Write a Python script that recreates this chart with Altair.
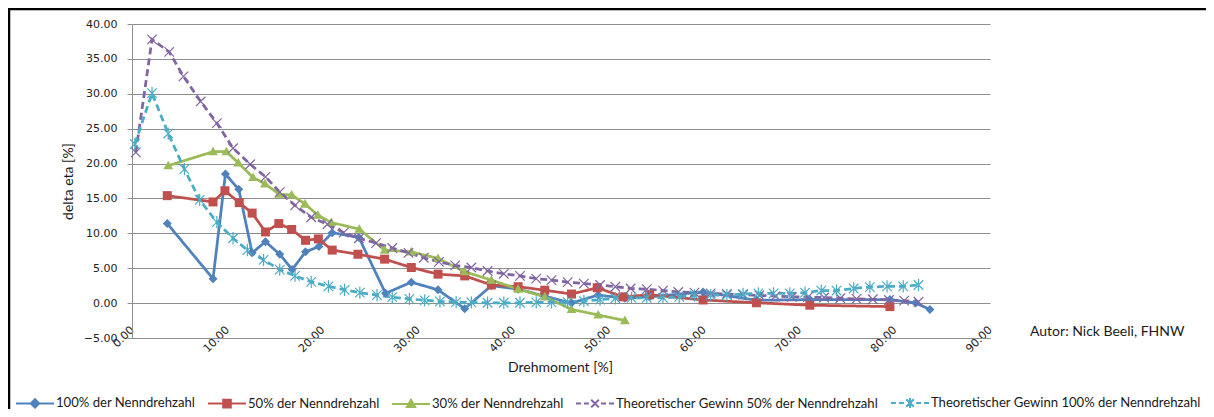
import altair as alt
import pandas as pd

# ---------------- data ----------------
S1 = "100% der Nenndrehzahl"
S2 = "50% der Nenndrehzahl"
S3 = "30% der Nenndrehzahl"
S4 = "Theoretischer Gewinn 50% der Nenndrehzahl"
S5 = "Theoretischer Gewinn 100% der Nenndrehzahl"
series_names = [S1, S2, S3, S4, S5]

blue_x = [3.7, 8.5, 9.8, 11.2, 12.6, 14.0, 15.5, 16.8, 18.2, 19.6, 21.0, 23.8, 26.6,
          29.3, 32.1, 34.9, 37.7, 40.5, 43.3, 46.1, 48.9, 51.7, 54.3, 59.9, 65.5,
          71.1, 79.5, 82.2, 83.7]
blue_y = [11.4, 3.5, 18.5, 16.3, 7.2, 8.8, 7.0, 4.8, 7.35, 8.1, 10.1, 9.4, 1.4,
          3.0, 1.9, -0.8, 2.5, 2.0, 1.0, 0.0, 1.15, 0.7, 0.9, 1.6, 0.4,
          0.5, 0.5, 0.0, -0.9]

red_x = [3.7, 8.5, 9.75, 11.25, 12.6, 14.0, 15.4, 16.75, 18.2, 19.55, 21.0, 23.7, 26.5,
         29.3, 32.1, 34.9, 37.7, 40.5, 43.3, 46.1, 48.8, 51.5, 54.3, 59.9, 65.5, 71.1, 79.5]
red_y = [15.4, 14.5, 16.1, 14.4, 12.9, 10.2, 11.4, 10.55, 9.0, 9.2, 7.6, 7.0, 6.3,
         5.1, 4.15, 3.9, 2.6, 2.35, 1.85, 1.3, 2.2, 0.9, 1.2, 0.45, 0.05, -0.3, -0.5]

green_x = [3.8, 8.5, 9.9, 11.15, 12.7, 13.95, 15.45, 16.75, 18.15, 19.5, 20.9, 23.85,
           26.5, 29.3, 32.1, 34.9, 37.7, 40.5, 43.3, 46.1, 48.9, 51.7]
green_y = [19.7, 21.7, 21.7, 20.1, 18.0, 17.1, 15.6, 15.5, 14.2, 12.6, 11.55, 10.6,
           7.6, 7.35, 6.4, 4.5, 3.3, 2.0, 0.9, -0.9, -1.7, -2.5]

purple_x = [0.4, 2.1, 3.9, 5.4, 7.2, 8.9, 10.6, 12.4, 14.0, 15.5, 17.1, 18.8, 20.5,
            22.2, 23.8, 25.6, 27.3, 29.0, 30.6, 32.2, 33.9, 35.6, 37.3, 39.0, 40.7,
            42.4, 44.0, 45.7, 47.4, 49.1, 50.7, 52.3, 54.0, 55.7, 57.3, 59.0, 60.7,
            62.4, 64.1, 65.8, 67.5, 69.2, 70.9, 72.6, 74.3, 76.0, 77.7, 79.4, 81.0, 82.5]
purple_y = [21.6, 37.8, 36.0, 32.5, 28.9, 25.8, 22.2, 19.9, 18.1, 15.9, 14.0, 12.3, 11.3,
            10.1, 9.3, 8.6, 7.9, 7.2, 6.5, 5.9, 5.4, 5.1, 4.6, 4.2, 3.9,
            3.5, 3.3, 3.0, 2.8, 2.6, 2.35, 2.1, 2.0, 1.8, 1.6, 1.5, 1.4,
            1.3, 1.2, 1.1, 1.0, 0.9, 0.85, 0.8, 0.7, 0.6, 0.55, 0.45, 0.35, 0.2]

cyan_x = [0.3, 2.1, 3.8, 5.5, 7.1, 8.9, 10.6, 12.1, 13.8, 15.5, 17.1, 18.8, 20.6,
          22.3, 23.9, 25.7, 27.3, 29.1, 30.7, 32.3, 34.0, 35.6, 37.3, 39.0, 40.7,
          42.4, 44.0, 45.7, 47.4, 49.1, 50.7, 52.4, 54.0, 55.7, 57.4, 59.0, 60.7,
          62.4, 64.1, 65.7, 67.3, 69.0, 70.6, 72.3, 73.9, 75.7, 77.4, 79.2, 80.9, 82.5]
cyan_y = [22.8, 30.1, 24.3, 19.2, 14.8, 11.6, 9.3, 7.6, 6.2, 4.8, 3.9, 3.05, 2.4,
          1.9, 1.5, 1.15, 0.85, 0.6, 0.4, 0.25, 0.15, 0.1, 0.05, 0.05, 0.05,
          0.1, 0.1, 0.15, 0.3, 0.5, 0.7, 0.75, 0.75, 0.75, 0.9, 1.1, 1.15,
          1.15, 1.3, 1.4, 1.4, 1.4, 1.5, 1.8, 1.8, 2.1, 2.3, 2.4, 2.4, 2.6]

x_ticks = [0, 10, 20, 30, 40, 50, 60, 70, 80, 90]
y_ticks = [-5, 0, 5, 10, 15, 20, 25, 30, 35, 40]
author_text = "Autor: Nick Beeli, FHNW"

# ---------------- styling ----------------
colors = ["#4F81BD", "#C0504D", "#9BBB59", "#8064A2", "#4BACC6"]
dashes = [[1, 0], [1, 0], [1, 0], [7, 4], [7, 4]]
marker_paths = [
    "M0,-1L1,0L0,1L-1,0Z",
    "M-1,-1L1,-1L1,1L-1,1Z",
    "M0,-1.1L1.1,0.8L-1.1,0.8Z",
    "M-1,-1L1,1M-1,1L1,-1",
    "M-1,-1L1,1M-1,1L1,-1M0,-1.3L0,1.3",
]
dash_line = "M-1,0L-0.74,0M-0.58,0L-0.32,0M0.32,0L0.58,0M0.74,0L1,0"
legend_paths = [
    "M-1,0L1,0M0,-0.22L0.22,0L0,0.22L-0.22,0Z",
    "M-1,0L1,0M-0.2,-0.2L0.2,-0.2L0.2,0.2L-0.2,0.2Z",
    "M-1,0L1,0M0,-0.22L0.22,0.17L-0.22,0.17Z",
    dash_line + "M-0.2,-0.2L0.2,0.2M-0.2,0.2L0.2,-0.2",
    dash_line + "M-0.2,-0.2L0.2,0.2M-0.2,0.2L0.2,-0.2M0,-0.26L0,0.26",
]

rows = []
for name, xs, ys in [(S1, blue_x, blue_y), (S2, red_x, red_y), (S3, green_x, green_y),
                     (S4, purple_x, purple_y), (S5, cyan_x, cyan_y)]:
    for xv, yv in zip(xs, ys):
        rows.append({"series": name, "x": xv, "y": yv})
df = pd.DataFrame(rows)

GRID = "#8e8e8e"
x_enc = alt.X(
    "x:Q",
    scale=alt.Scale(domain=[0, 90], nice=False, zero=False),
    axis=alt.Axis(values=x_ticks, format=".2f", labelAngle=-45, labelAlign="right",
                  labelBaseline="middle", labelPadding=-10, labelFlush=False,
                  labelOverlap=False, ticks=False, grid=False, domainColor=GRID,
                  labelFont="DejaVu Sans", labelFontSize=11, labelColor="#222222",
                  title="Drehmoment [%]", titleFont="Lato", titleFontSize=14,
                  titleFontWeight="normal", titleColor="#1a1a1a", titleX=428, titleY=29,
                  titleBaseline="middle", titleAlign="center"),
)
y_enc = alt.Y(
    "y:Q",
    scale=alt.Scale(domain=[-5, 40], nice=False, zero=False),
    axis=alt.Axis(values=y_ticks, format=".2f", grid=True, gridColor=GRID, gridWidth=1,
                  domainColor=GRID, tickColor=GRID, tickSize=5, labelPadding=10,
                  labelFlush=False, labelOverlap=False,
                  labelFont="DejaVu Sans", labelFontSize=11, labelColor="#222222",
                  title="delta eta [%]", titleFont="Lato", titleFontSize=14,
                  titleFontWeight="normal", titleColor="#1a1a1a", titleX=-64, titleY=157,
                  titleAngle=270, titleBaseline="middle", titleAlign="center"),
)
color_enc = alt.Color("series:N", scale=alt.Scale(domain=series_names, range=colors), legend=None)
marker_shape = alt.Shape("series:N", scale=alt.Scale(domain=series_names, range=marker_paths), legend=None)

base = alt.Chart(df)

lines = base.mark_line(strokeWidth=2.75).encode(
    x=x_enc, y=y_enc, color=color_enc,
    strokeDash=alt.StrokeDash("series:N", scale=alt.Scale(domain=series_names, range=dashes), legend=None),
)

filled_pts = base.transform_filter(
    alt.FieldOneOfPredicate(field="series", oneOf=[S1, S2, S3])
).mark_point(filled=True, size=81, opacity=1).encode(
    x=x_enc, y=y_enc, color=color_enc, shape=marker_shape
)

stroked_pts = base.transform_filter(
    alt.FieldOneOfPredicate(field="series", oneOf=[S4, S5])
).mark_point(filled=False, size=90, opacity=1, strokeWidth=1.2).encode(
    x=x_enc, y=y_enc, color=color_enc, shape=marker_shape
)

leg = alt.Legend(title=None, orient="none", legendX=-117, legendY=359, direction="horizontal",
                 symbolSize=1444, symbolStrokeWidth=2, labelFont="Lato", labelFontSize=13.1,
                 labelColor="#1a1a1a", labelOffset=1, columnPadding=8, padding=0,
                 labelLimit=500)
legend_layer = base.transform_filter("false").mark_point(filled=True, opacity=1, strokeWidth=2).encode(
    x=x_enc, y=y_enc,
    fill=alt.Fill("series:N", scale=alt.Scale(domain=series_names, range=colors), legend=leg),
    stroke=alt.Stroke("series:N", scale=alt.Scale(domain=series_names, range=colors), legend=leg),
    shape=alt.Shape("series:N", scale=alt.Scale(domain=series_names, range=legend_paths), legend=leg),
)

author = alt.Chart(pd.DataFrame({"t": [author_text]})).mark_text(
    align="left", baseline="middle", font="Lato", fontSize=14, color="#1a1a1a"
).encode(text="t:N", x=alt.value(898), y=alt.value(308))

frame = alt.Chart(pd.DataFrame({"a": [0]})).mark_rect(
    fill="transparent", stroke="#000000", strokeWidth=2.5
).encode(x=alt.value(-123), x2=alt.value(1300), y=alt.value(-15), y2=alt.value(700))

chart = alt.layer(frame, lines, filled_pts, stroked_pts, legend_layer, author).resolve_scale(
    shape="independent", fill="independent", stroke="independent"
).properties(
    width=858, height=314,
    autosize=alt.AutoSizeParams(type="none"),
    padding={"left": 124, "top": 16, "right": 216, "bottom": 71},
    background="white",
).configure_view(strokeWidth=0)

chart.save("out.html", embed_options={"renderer": "svg", "actions": False})
